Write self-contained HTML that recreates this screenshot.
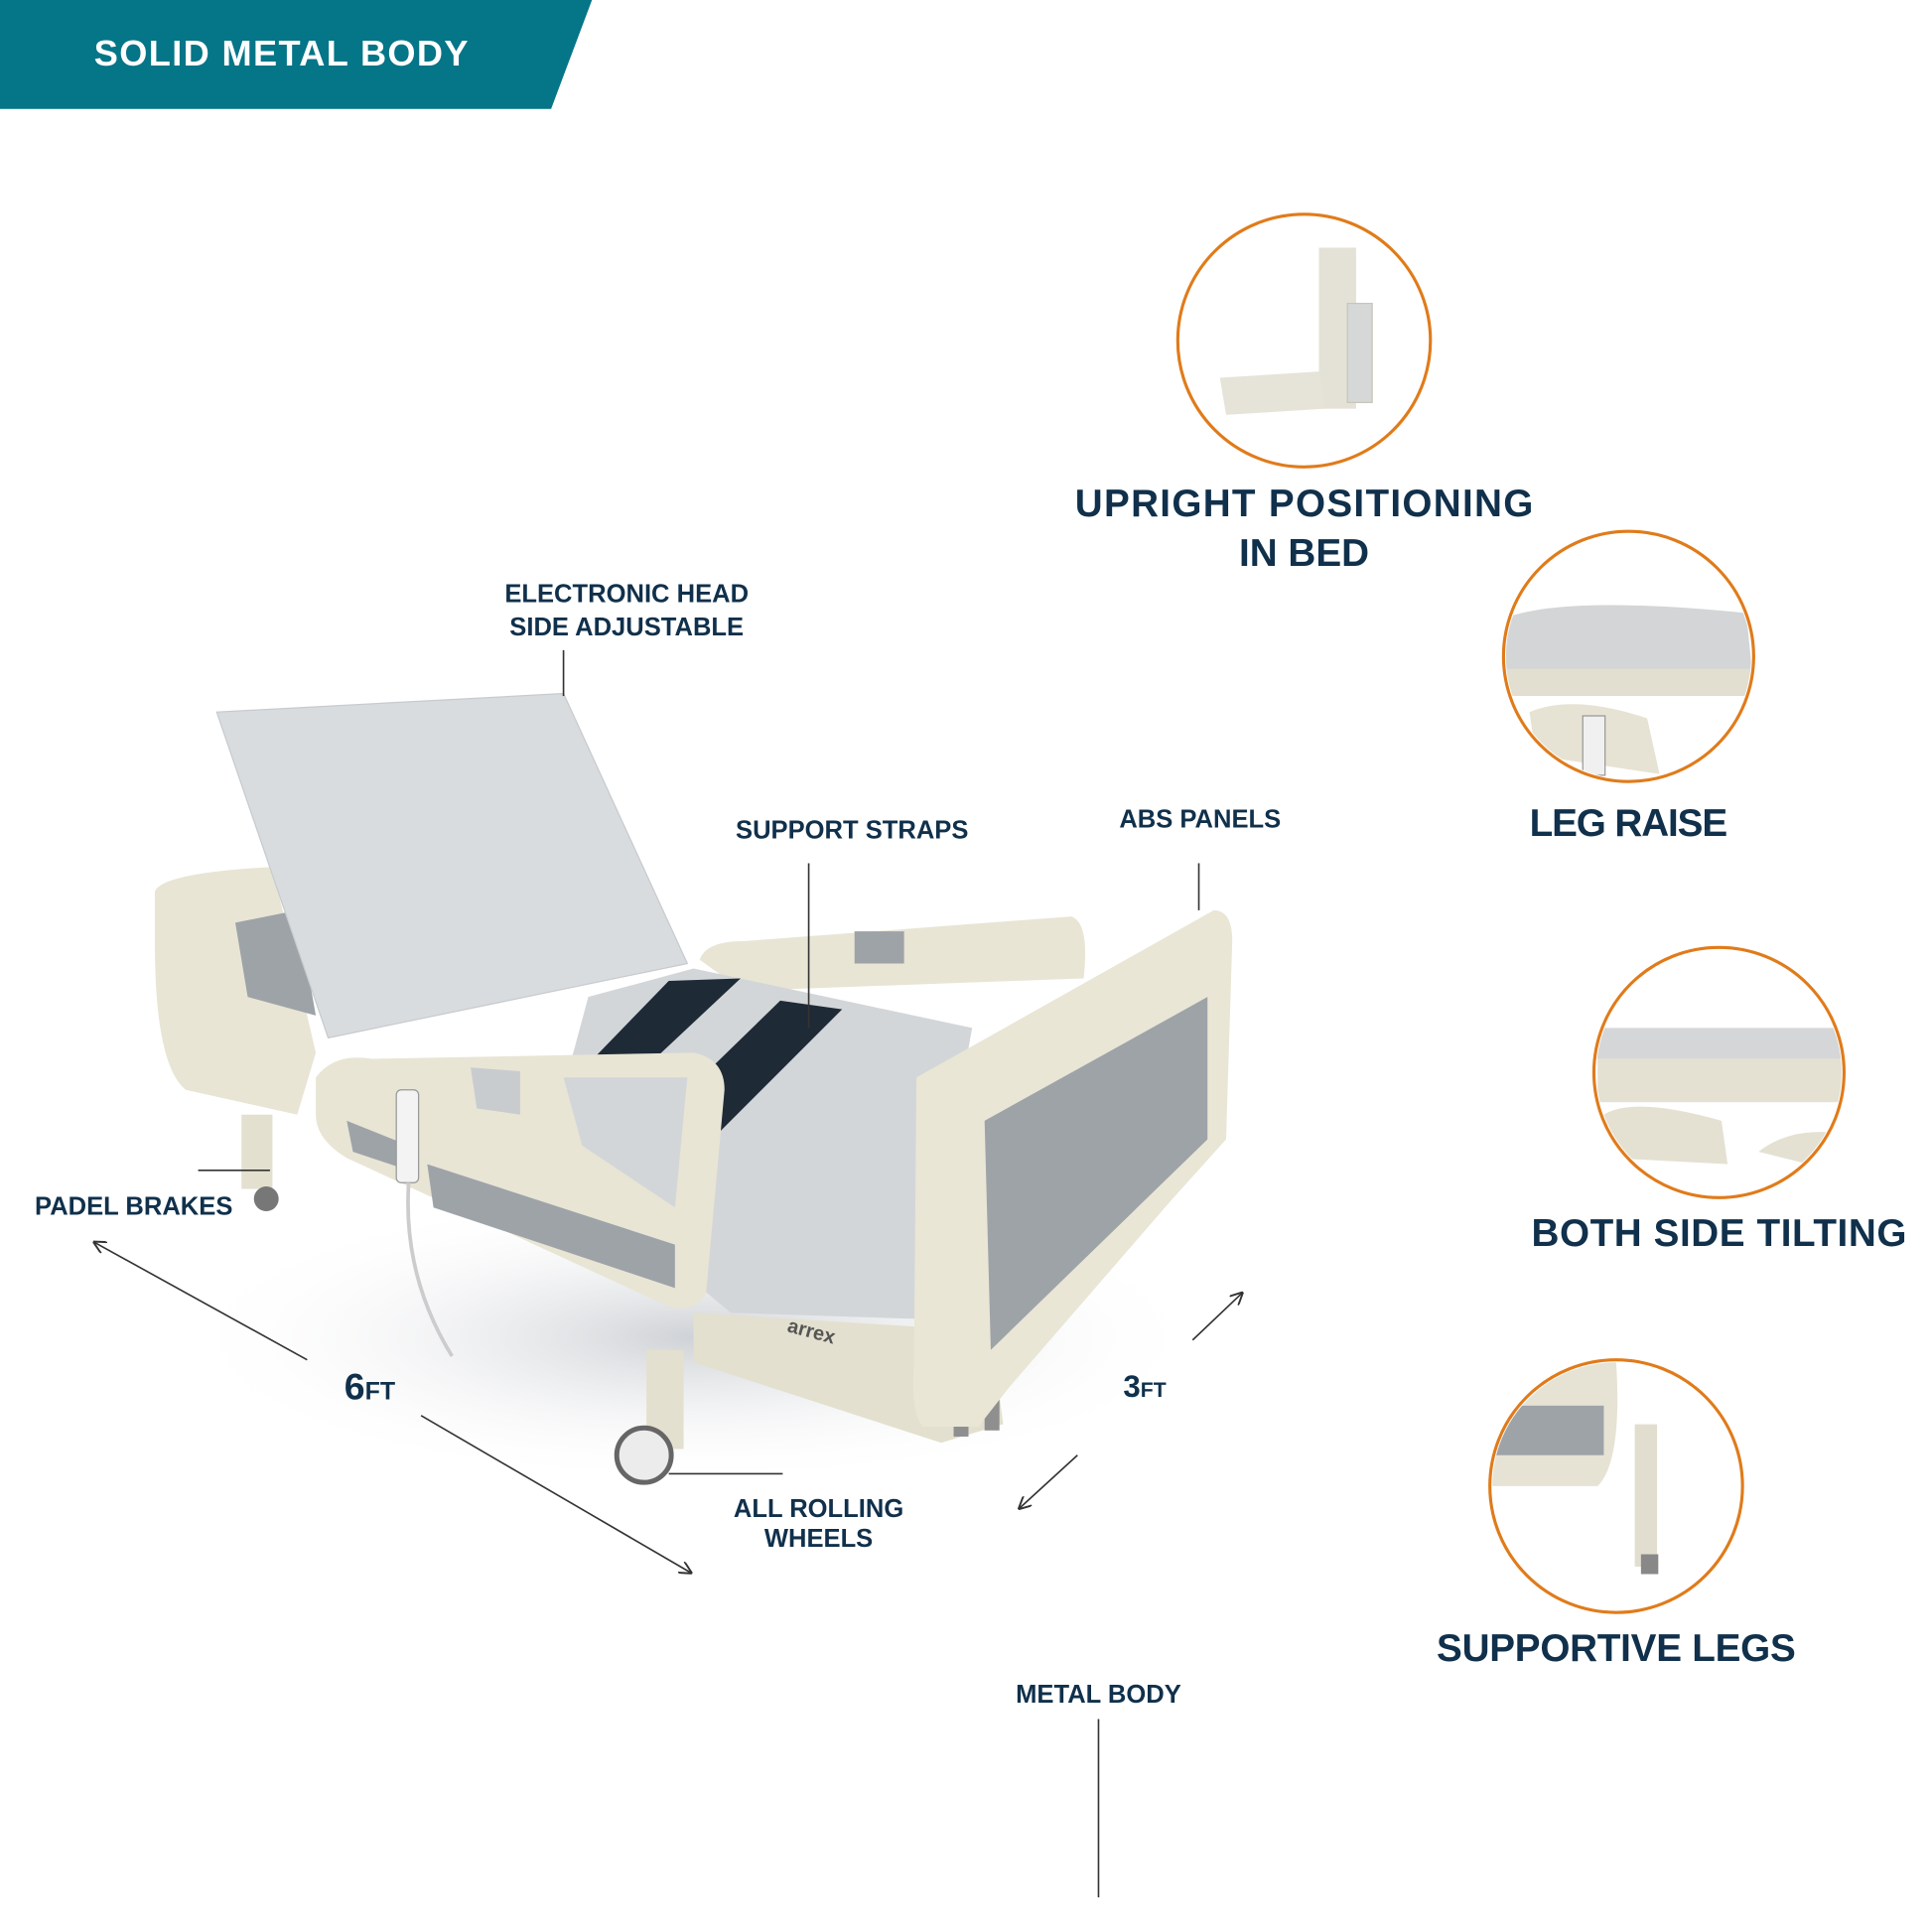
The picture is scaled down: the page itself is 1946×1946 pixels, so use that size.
<!DOCTYPE html>
<html><head><meta charset="utf-8"><style>
html,body{margin:0;padding:0;background:#fff;}
svg{display:block}
text{font-family:"Liberation Sans",sans-serif;font-weight:bold;fill:#10304b}
</style></head><body>
<svg width="1946" height="1946" viewBox="0 0 1560 1560" xmlns="http://www.w3.org/2000/svg">
<defs>
<radialGradient id="sh" cx="0.5" cy="0.5" r="0.5"><stop offset="0" stop-color="#cfd2d6"/><stop offset="1" stop-color="#fff" stop-opacity="0"/></radialGradient>
<marker id="ah" viewBox="0 0 10 10" refX="9" refY="5" markerWidth="8" markerHeight="8" orient="auto"><path d="M0,0 L10,5 L0,10" fill="none" stroke="#333" stroke-width="1.5"/></marker>
<clipPath id="c1"><circle cx="1053" cy="275" r="100"/></clipPath>
<clipPath id="c2"><circle cx="1315" cy="530" r="99"/></clipPath>
<clipPath id="c3"><circle cx="1388" cy="866" r="99"/></clipPath>
<clipPath id="c4"><circle cx="1305" cy="1200" r="100"/></clipPath>
</defs>
<polygon points="0,0 478,0 445,88 0,88" fill="#057588"/>
<text x="76" y="53" font-size="29" style="fill:#fff" textLength="302">SOLID METAL BODY</text>

<g clip-path="url(#c1)">
<rect x="1065" y="200" width="30" height="130" fill="#e4e2d6"/>
<rect x="1088" y="245" width="20" height="80" fill="#d6d8d8" stroke="#c8c6b8"/>
<polygon points="985,305 1065,300 1070,330 990,335" fill="#e6e4d8"/>
</g>
<g clip-path="url(#c2)">
<path d="M1213,500 Q1260,480 1410,495 L1415,545 L1213,545Z" fill="#d3d5d6"/>
<rect x="1213" y="540" width="200" height="22" fill="#e2dfd0"/>
<path d="M1235,575 Q1270,560 1330,580 L1340,625 L1240,610Z" fill="#e6e3d4"/>
<rect x="1278" y="578" width="18" height="48" fill="#f0f0f0" stroke="#999"/>
</g>
<g clip-path="url(#c3)">
<rect x="1288" y="830" width="200" height="25" fill="#d4d6d7"/>
<rect x="1290" y="855" width="198" height="35" fill="#e4e1d3"/>
<path d="M1295,900 Q1320,885 1390,905 L1395,940 L1300,935Z" fill="#e4e1d3"/>
<path d="M1420,930 Q1445,910 1485,915 L1480,945Z" fill="#e4e1d3"/>
</g>
<g clip-path="url(#c4)">
<path d="M1200,1100 L1305,1100 Q1310,1180 1290,1200 L1200,1200Z" fill="#e6e3d4"/>
<rect x="1205" y="1135" width="90" height="40" fill="#9ea3a8"/>
<rect x="1320" y="1150" width="18" height="115" fill="#e1ded0"/>
<rect x="1325" y="1255" width="14" height="16" fill="#888"/>
</g>
<g fill="none" stroke="#e07b1a" stroke-width="2.5">
<circle cx="1053" cy="275" r="102"/><circle cx="1315" cy="530" r="101"/><circle cx="1388" cy="866" r="101"/><circle cx="1305" cy="1200" r="102"/>
</g>

<text x="1053" y="417" font-size="31" text-anchor="middle" textLength="370">UPRIGHT POSITIONING</text>
<text x="1053" y="457" font-size="31" text-anchor="middle">IN BED</text>
<text x="1315" y="675" font-size="31" text-anchor="middle" textLength="160">LEG RAISE</text>
<text x="1388" y="1006" font-size="31" text-anchor="middle" textLength="303">BOTH SIDE TILTING</text>
<text x="1305" y="1341" font-size="31" text-anchor="middle" textLength="290">SUPPORTIVE LEGS</text>

<ellipse cx="560" cy="1080" rx="420" ry="120" fill="url(#sh)"/>
<polygon points="560,1060 800,1075 810,1150 760,1165 560,1100" fill="#e3e0cf"/>
<rect x="522" y="1090" width="30" height="80" fill="#e3e0cf"/>
<circle cx="520" cy="1175" r="22" fill="#ececec" stroke="#666" stroke-width="4"/>
<rect x="770" y="1120" width="12" height="40" fill="#8f8f8f"/><rect x="795" y="1115" width="12" height="40" fill="#8f8f8f"/>
<rect x="195" y="900" width="25" height="60" fill="#e3e0cf"/>
<circle cx="215" cy="968" r="10" fill="#777"/>
<path d="M125,720 Q130,705 220,700 L255,850 L240,900 L150,880 Q125,860 125,760Z" fill="#e8e5d5"/>
<polygon points="190,745 240,735 255,820 200,805" fill="#9ea3a8"/>
<path d="M565,775 Q570,760 600,760 L865,740 Q880,745 875,790 L600,800Z" fill="#e8e5d5"/>
<rect x="690" y="752" width="40" height="26" fill="#9ea3a8"/>
<polygon points="175,575 455,560 555,778 265,838" fill="#d9dcdf" stroke="#c8cbce"/>
<polygon points="475,805 560,782 785,830 742,1065 590,1060 440,935" fill="#d3d6d9"/>
<polygon points="540,792 598,790 470,910 445,890" fill="#1f2a37"/>
<polygon points="630,808 680,815 565,930 520,915" fill="#1f2a37"/>
<path d="M255,870 Q270,850 300,855 L560,850 Q585,855 585,880 L570,1045 Q560,1060 540,1055 L280,935 Q255,920 255,900Z" fill="#e8e5d5"/>
<polygon points="345,940 545,1005 545,1040 350,975" fill="#9ea3a8"/>
<polygon points="280,905 330,925 330,945 285,930" fill="#9ea3a8"/>
<polygon points="380,862 420,865 420,900 385,895" fill="#c9cccf"/>
<polygon points="455,870 555,870 545,975 470,925" fill="#d3d6d9"/>
<rect x="320" y="880" width="18" height="75" rx="4" fill="#f3f3f3" stroke="#999"/>
<path d="M330,955 Q325,1030 365,1095" fill="none" stroke="#ccc" stroke-width="3"/>
<path d="M740,870 L980,735 Q995,735 995,760 L990,920 L945,970 L815,1120 L790,1152 L745,1152 Q735,1140 738,1100Z" fill="#e9e6d6"/>
<polygon points="795,905 975,805 975,920 800,1090" fill="#9ea3a8"/>
<text x="635" y="1075" font-size="16" transform="rotate(15 635 1075)" style="fill:#555">arrex</text>

<g font-size="20.5" text-anchor="middle">
<text x="506" y="486">ELECTRONIC HEAD</text><text x="506" y="513">SIDE ADJUSTABLE</text>
<text x="688" y="677">SUPPORT STRAPS</text>
<text x="969" y="668">ABS PANELS</text>
<text x="108" y="981">PADEL BRAKES</text>
<text x="661" y="1225">ALL ROLLING</text><text x="661" y="1249">WHEELS</text>
<text x="887" y="1375">METAL BODY</text>
</g>
<text x="278" y="1130" font-size="30">6<tspan font-size="20">FT</tspan></text>
<text x="907" y="1128" font-size="25">3<tspan font-size="17">FT</tspan></text>
<g stroke="#333" stroke-width="1.3" fill="none">
<line x1="455" y1="525" x2="455" y2="562"/>
<line x1="653" y1="697" x2="653" y2="830"/>
<line x1="968" y1="697" x2="968" y2="735"/>
<line x1="160" y1="945" x2="218" y2="945"/>
<line x1="540" y1="1190" x2="632" y2="1190"/>
<line x1="887" y1="1388" x2="887" y2="1532"/>
<line x1="248" y1="1098" x2="76" y2="1003" marker-end="url(#ah)"/>
<line x1="340" y1="1143" x2="558" y2="1270" marker-end="url(#ah)"/>
<line x1="963" y1="1082" x2="1003" y2="1044" marker-end="url(#ah)"/>
<line x1="870" y1="1175" x2="823" y2="1218" marker-end="url(#ah)"/>
</g>
</svg>
</body></html>
